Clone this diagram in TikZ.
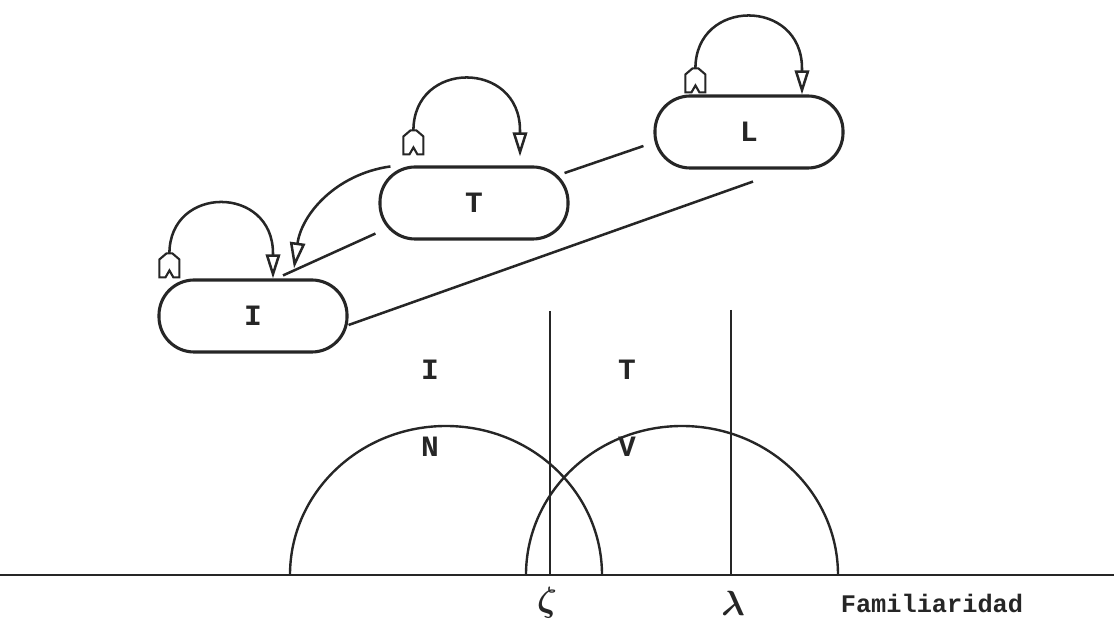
\documentclass[tikz,border=0pt]{standalone}
\usepackage{fontspec}
\setmonofont{Liberation Mono}
\usepackage{tikz}
\usetikzlibrary{arrows.meta}
\colorlet{ink}{black!85}
\newcommand{\tfont}{\ttfamily\bfseries\fontsize{18}{20}\selectfont}
\newcommand{\letterfont}{\ttfamily\bfseries\fontsize{21}{23}\selectfont}

\begin{document}
\begin{tikzpicture}[x=0.025cm, y=0.025cm, ink,
  state/.style={rectangle, rounded corners=0.88cm, draw, line width=2.2pt,
                minimum width=4.7cm, minimum height=1.8cm, inner sep=0pt, font=\letterfont},
  selfloop/.style={line width=1.8pt, looseness=1.7,
                   -{Triangle[open, length=0.6cm, width=0.36cm]}},
  link/.style={line width=1.8pt},
  fletch/.pic={\draw[line width=1.5pt, fill=white]
     (-3,0) -- (-10,-6) -- (-10,-24) -- (-4,-24) -- (0,-17) -- (4,-24)
     -- (10,-24) -- (10,-6) -- (3,0) -- cycle;},
  axis/.style={line width=1.8pt},
  divider/.style={line width=1.3pt},
  bump/.style={line width=1.7pt},
  lbl/.style={font=\letterfont},
  word/.style={font=\tfont},
  sym/.style={font=\boldmath\fontsize{26}{28}\selectfont}
]
  \useasboundingbox (0,0) rectangle (1114,633);

  % States
  \node[state] (I) at (253,317) {I};
  \node[state] (T) at (474,430) {T};
  \node[state] (L) at (749,501) {L};

  % Self loops
  \coordinate (Itail) at ([shift={(12,25)}]I.north west);
  \coordinate (Ihead) at ([shift={(20,0)}]I.north);
  \draw[selfloop] (Itail) to[out=90, in=90] (Itail -| Ihead) -- (Ihead);
  \pic at (Itail) {fletch};

  \coordinate (Ttail) at ([shift={(35,35)}]T.north west);
  \coordinate (Thead) at ([shift={(46,9)}]T.north);
  \draw[selfloop] (Ttail) to[out=90, in=90] (Ttail -| Thead) -- (Thead);
  \pic at (Ttail) {fletch};

  \coordinate (Ltail) at ([shift={(42,26)}]L.north west);
  \coordinate (Lhead) at ([shift={(53,0)}]L.north);
  \draw[selfloop] (Ltail) to[out=90, in=90] (Ltail -| Lhead) -- (Lhead);
  \pic at (Ltail) {fletch};

  % Links between states
  \draw[link, -{Triangle[open, length=0.65cm, width=0.38cm]}]
    ([shift={(12,-1)}]T.north west) to[out=188, in=82] ([shift={(41,10)}]I.north);
  \draw[link] ([shift={(-3,7)}]T.south west) -- ([shift={(30,3)}]I.north);
  \draw[link] ([shift={(-5,30)}]T.east) -- ([shift={(-10,-14)}]L.west);
  \draw[link] ([shift={(4,-12)}]L.south) -- ([shift={(0,-9)}]I.east);

  % Familiarity axis
  \draw[axis] (0,58) -- (1114,58);
  \draw[divider] (550,322) -- (550,58);
  \draw[divider] (731,323) -- (731,58);
  \draw[bump] (290,58) arc[start angle=180, end angle=0, x radius=156, y radius=149];
  \draw[bump] (526,58) arc[start angle=180, end angle=0, x radius=156, y radius=149];

  % Labels
  \node[lbl] (regI) at (430,263) {I};
  \node[lbl] (regT) at (627,263) {T};
  \node[lbl] (regN) at (430,186) {N};
  \node[lbl] (regV) at (627,186) {V};
  \node[sym] (zeta) at (547,30) {$\zeta$};
  \node[sym] (lambda) at (733,30) {$\lambda$};
  \node[word] (fam) at (932,30) {Familiaridad};

\end{tikzpicture}
\end{document}
